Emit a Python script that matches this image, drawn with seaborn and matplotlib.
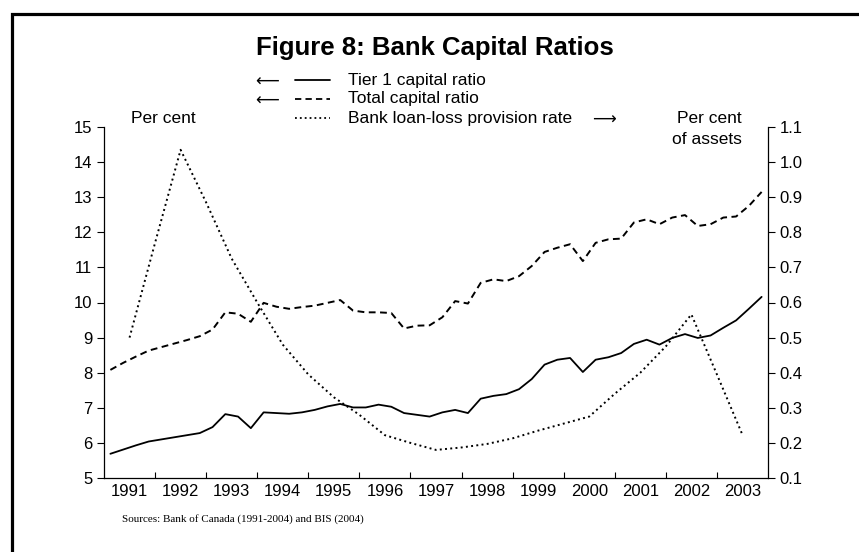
import matplotlib
matplotlib.use("Agg")
import matplotlib.pyplot as plt
from matplotlib.lines import Line2D
from matplotlib.patches import Rectangle
import numpy as np
import pandas as pd
import seaborn as sns

# quarterly capital ratios, 1991Q1 .. 2003Q4 (per cent)
tier1_ratio = [
    5.69, 5.81, 5.93, 6.04,
    6.10, 6.16, 6.22, 6.28,
    6.45, 6.82, 6.75, 6.42,
    6.87, 6.85, 6.83, 6.87,
    6.94, 7.04, 7.11, 7.01,
    7.01, 7.09, 7.03, 6.85,
    6.80, 6.75, 6.87, 6.94,
    6.85, 7.26, 7.34, 7.39,
    7.53, 7.82, 8.23, 8.37,
    8.42, 8.02, 8.37, 8.44,
    8.56, 8.82, 8.94, 8.80,
    8.99, 9.10, 8.99, 9.06,
    9.28, 9.49, 9.82, 10.16,
]
total_ratio = [
    8.08, 8.28, 8.46, 8.63,
    8.73, 8.83, 8.93, 9.04,
    9.23, 9.72, 9.68, 9.45,
    9.99, 9.88, 9.82, 9.87,
    9.91, 9.99, 10.07, 9.77,
    9.72, 9.72, 9.70, 9.26,
    9.34, 9.35, 9.58, 10.04,
    9.97, 10.56, 10.66, 10.61,
    10.75, 11.04, 11.44, 11.56,
    11.66, 11.18, 11.70, 11.80,
    11.82, 12.28, 12.37, 12.23,
    12.42, 12.49, 12.18, 12.23,
    12.42, 12.45, 12.75, 13.15,
]
# half-yearly loan-loss provision rate, 1991.5 .. 2003.5 (per cent of assets)
provision_rate = [
    0.50, 0.77, 1.035, 0.885, 0.725, 0.60, 0.48, 0.395, 0.33, 0.28,
    0.222, 0.20, 0.18, 0.187, 0.197, 0.213, 0.235, 0.255, 0.275, 0.34,
    0.40, 0.475, 0.566, 0.395, 0.223,
]
years = list(range(1991, 2004))
left_ticks = list(range(5, 16))
right_ticks = [0.1, 0.2, 0.3, 0.4, 0.5, 0.6, 0.7, 0.8, 0.9, 1.0, 1.1]

quarters = pd.period_range("1991Q1", "2003Q4", freq="Q")
capital = pd.DataFrame({
    "date": quarters.year + (quarters.quarter - 0.5) / 4,
    "tier1": tier1_ratio,
    "total": total_ratio,
})
provision = pd.DataFrame({
    "date": 1991.5 + 0.5 * np.arange(len(provision_rate)),
    "rate": provision_rate,
})

sns.set_style("ticks")
plt.rcParams["font.family"] = ["Liberation Sans", "DejaVu Sans"]
plt.rcParams.update({
    "text.color": "black",
    "xtick.color": "black",
    "ytick.color": "black",
    "axes.edgecolor": "black",
})

W, H = 859, 552
fig = plt.figure(figsize=(W / 100, H / 100), dpi=100)
ax = fig.add_axes([104 / W, 1 - 478 / H, 664 / W, 351 / H])
ax2 = ax.twinx()

DASHED = (0, (3.5, 2.3))
DOTTED = (0, (1, 1.7))

sns.lineplot(data=capital, x="date", y="tier1", ax=ax, color="black", lw=1.3)
sns.lineplot(data=capital, x="date", y="total", ax=ax, color="black", lw=1.4,
             linestyle=DASHED)
sns.lineplot(data=provision, x="date", y="rate", ax=ax2, color="black", lw=1.4,
             linestyle=DOTTED)

ax.set_xlim(1991, 2004)
ax.set_ylim(5, 15)
ax2.set_ylim(0.1, 1.1)
ax.set_xlabel("")
ax.set_ylabel("")
ax2.set_ylabel("")

# year labels sit between year-boundary ticks
ax.set_xticks(years[1:])
ax.set_xticklabels([])
ax.set_xticks([y + 0.5 for y in years], minor=True)
ax.set_xticklabels([str(y) for y in years], minor=True)
ax.tick_params(axis="x", which="major", direction="in", length=4, width=0.8)
ax.tick_params(axis="x", which="minor", length=0, labelsize=12, pad=4)

ax.set_yticks(left_ticks)
ax.tick_params(axis="y", direction="out", length=5, width=0.8, labelsize=12)
ax2.set_yticks(right_ticks)
ax2.set_yticklabels([f"{v:.1f}" for v in right_ticks])
ax2.tick_params(axis="y", direction="out", length=5, width=0.8, labelsize=12)

for a in (ax, ax2):
    a.spines["top"].set_visible(False)
    for s in a.spines.values():
        s.set_linewidth(0.9)
ax.spines["right"].set_visible(False)
ax2.spines["left"].set_visible(False)
ax2.spines["bottom"].set_visible(False)


def fx(px):
    return px / W


def fy(py):
    return 1 - py / H


fig.text(fx(435), fy(48), "Figure 8: Bank Capital Ratios", ha="center", va="center",
         fontsize=18.5, fontweight="bold")

# hand-built legend with axis arrows
legend_rows = [
    ("Tier 1 capital ratio", "-", 80, "left"),
    ("Total capital ratio", DASHED, 99, "left"),
    ("Bank loan-loss provision rate", DOTTED, 118, "right"),
]
for label, ls, py, side in legend_rows:
    fig.add_artist(Line2D([fx(295), fx(330)], [fy(py), fy(py)], color="black",
                          lw=1.3, linestyle=ls))
    fig.text(fx(348), fy(py), label, ha="left", va="center", fontsize=12.5)
    if side == "left":
        fig.text(fx(266), fy(py), r"$\longleftarrow$", ha="center", va="center",
                 fontsize=12)
    else:
        fig.text(fx(603), fy(py), r"$\longrightarrow$", ha="center", va="center",
                 fontsize=12)

fig.text(fx(163), fy(118), "Per cent", ha="center", va="center", fontsize=12.5)
fig.text(fx(742), fy(118), "Per cent", ha="right", va="center", fontsize=12.5)
fig.text(fx(742), fy(139), "of assets", ha="right", va="center", fontsize=12.5)

fig.text(fx(122), fy(519), "Sources: Bank of Canada (1991-2004) and BIS (2004)",
         ha="left", va="center", fontsize=8, family="Liberation Serif")

# heavy frame around the exhibit (runs off the right and bottom edges)
fig.add_artist(Rectangle((fx(11.5), -0.5), 2, fy(13.5) + 0.5, fill=False,
                         lw=2.3, edgecolor="black", transform=fig.transFigure))

fig.savefig("out.png", dpi=100)
plt.close(fig)
